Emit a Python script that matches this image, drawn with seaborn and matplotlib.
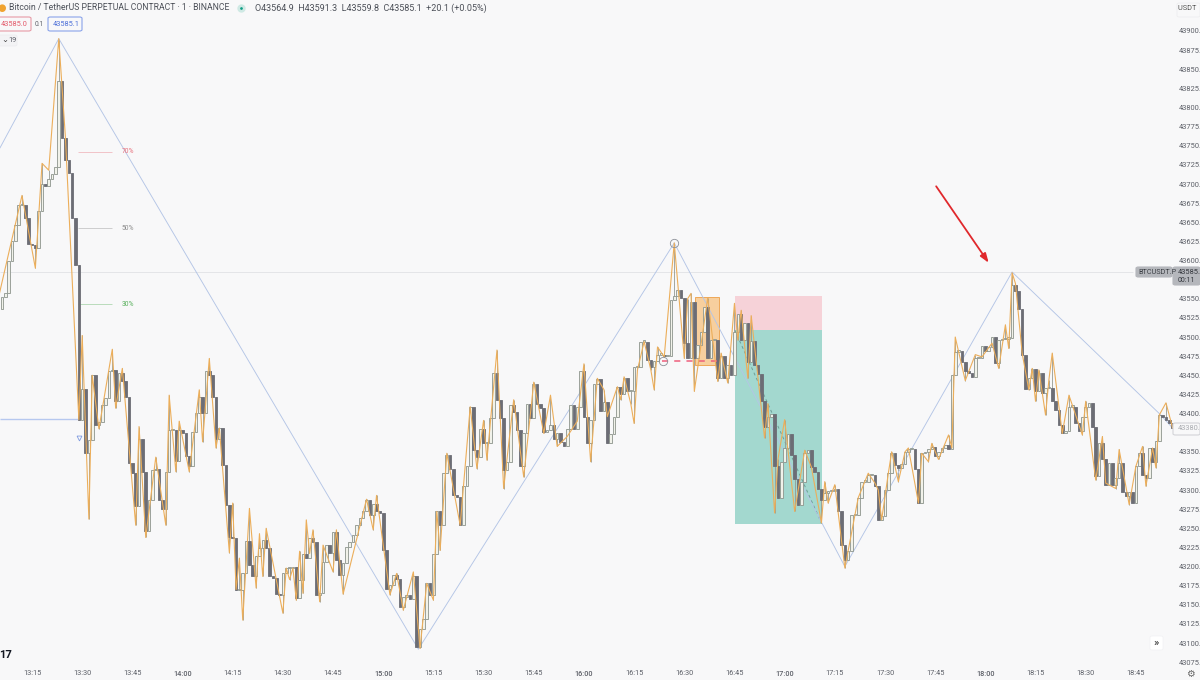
import numpy as np
import seaborn as sns
import matplotlib.pyplot as plt
from matplotlib.patches import Rectangle, FancyBboxPatch

# one minute candles, first one is 13:06
first_minute = 6
first_open = 43536
closes = [
    43552, 43557, 43600, 43626, 43646, 43672, 43672, 43655, 43622, 43620,
    43617, 43665, 43700, 43698, 43706, 43713, 43722, 43834, 43760, 43731,
    43714, 43656, 43594, 43392, 43432, 43349, 43365, 43450, 43385, 43389,
    43411, 43420, 43455, 43457, 43416, 43453, 43442, 43422, 43335, 43322,
    43279, 43367, 43324, 43246, 43287, 43326, 43328, 43287, 43275, 43323,
    43378, 43379, 43338, 43378, 43374, 43344, 43331, 43376, 43401, 43421,
    43401, 43455, 43450, 43421, 43367, 43381, 43333, 43281, 43238, 43237,
    43169, 43169, 43192, 43234, 43202, 43188, 43214, 43224, 43235, 43224,
    43187, 43185, 43164, 43163, 43191, 43198, 43198, 43199, 43159, 43183,
    43217, 43211, 43237, 43232, 43163, 43165, 43206, 43228, 43218, 43245,
    43208, 43189, 43204, 43226, 43232, 43241, 43254, 43263, 43272, 43287,
    43267, 43282, 43272, 43270, 43221, 43171, 43176, 43189, 43184, 43147,
    43160, 43163, 43158, 43187, 43095, 43119, 43132, 43178, 43163, 43217,
    43272, 43254, 43322, 43346, 43328, 43293, 43291, 43254, 43305, 43331,
    43409, 43352, 43343, 43380, 43361, 43361, 43394, 43453, 43418, 43394,
    43326, 43337, 43411, 43402, 43378, 43331, 43375, 43413, 43394, 43439,
    43413, 43407, 43376, 43379, 43385, 43367, 43374, 43363, 43357, 43380,
    43411, 43380, 43409, 43455, 43395, 43361, 43391, 43439, 43445, 43403,
    43415, 43361, 43373, 43396, 43435, 43426, 43446, 43429, 43429, 43461,
    43461, 43494, 43494, 43470, 43461, 43469, 43477, 43477, 43475, 43475,
    43548, 43553, 43562, 43551, 43492, 43472, 43546, 43472, 43490, 43507,
    43539, 43472, 43496, 43496, 43446, 43475, 43446, 43464, 43450, 43507,
    43530, 43496, 43518, 43468, 43495, 43464, 43452, 43416, 43383, 43396,
    43399, 43331, 43289, 43337, 43355, 43373, 43346, 43315, 43281, 43311,
    43348, 43352, 43330, 43324, 43302, 43287, 43296, 43299, 43299, 43302,
    43272, 43228, 43209, 43220, 43267, 43267, 43289, 43311, 43311, 43320,
    43320, 43305, 43261, 43266, 43300, 43322, 43349, 43333, 43329, 43334,
    43350, 43353, 43353, 43327, 43283, 43348, 43350, 43353, 43356, 43345,
    43350, 43355, 43359, 43353, 43451, 43481, 43482, 43468, 43455, 43453,
    43448, 43472, 43472, 43488, 43482, 43487, 43500, 43466, 43496, 43497,
    43498, 43499, 43568, 43560, 43536, 43477, 43432, 43446, 43458, 43429,
    43453, 43427, 43433, 43433, 43416, 43405, 43385, 43374, 43377, 43409,
    43409, 43387, 43377, 43396, 43409, 43414, 43383, 43319, 43361, 43340,
    43307, 43335, 43307, 43316, 43335, 43298, 43292, 43298, 43283, 43331,
    43348, 43320, 43316, 43355, 43337, 43364, 43398, 43396, 43392, 43387, 43381,
]

# orange swing line, minute and price of each turn
swing_minutes = [
    5, 12, 16, 18, 20, 23, 25, 29, 30, 32, 33, 35, 39, 40, 42, 46, 47, 49, 52, 55,
    56, 58, 59, 62, 65, 66, 68, 70, 71, 74, 75, 76, 77, 78, 80, 82, 83, 84, 85, 90,
    91, 92, 93, 94, 95, 96, 97, 98, 99, 101, 102, 105, 106, 108, 115, 117, 118, 122,
    124, 126, 129, 131, 133, 135, 136, 137, 139, 143, 146, 148, 150, 151, 154, 156,
    159, 162, 165, 168, 170, 172, 175, 178, 180, 182, 184, 186, 187, 190, 191, 192,
    194, 195, 196, 198, 200, 201, 202, 204, 207, 210, 211, 212, 213, 217, 220, 221,
    223, 225, 226, 227, 229, 230, 234, 235, 237, 238, 240, 243, 246, 248, 251, 252,
    253, 255, 258, 262, 265, 267, 268, 269, 271, 272, 274, 276, 277, 280, 281, 283,
    284, 286, 289, 290, 291, 294, 297, 299, 302, 304, 306, 307, 308, 309, 311, 313,
    314, 315, 316, 318, 319, 320, 323, 325, 329, 330, 333, 335, 336, 339, 340, 343,
    345, 347, 348, 350, 351, 352, 354, 356,
]
swing_prices = [
    43552, 43685, 43590, 43727, 43718, 43890, 43760, 43392, 43502, 43262, 43450, 43380,
    43484, 43407, 43459, 43254, 43383, 43238, 43343, 43254, 43424, 43324, 43390, 43324,
    43431, 43363, 43472, 43355, 43381, 43218, 43283, 43170, 43211, 43130, 43276, 43172,
    43243, 43187, 43250, 43139, 43198, 43183, 43198, 43156, 43220, 43165, 43261, 43217,
    43248, 43154, 43228, 43193, 43248, 43164, 43288, 43248, 43293, 43163, 43191, 43143,
    43193, 43093, 43178, 43156, 43272, 43221, 43348, 43254, 43409, 43328, 43391, 43339,
    43483, 43302, 43418, 43317, 43441, 43374, 43424, 43357, 43370, 43390, 43465, 43337,
    43446, 43431, 43396, 43435, 43418, 43448, 43413, 43387, 43457, 43494, 43457, 43431,
    43487, 43474, 43623, 43472, 43550, 43557, 43429, 43551, 43442, 43479, 43440, 43544,
    43496, 43535, 43446, 43528, 43368, 43413, 43270, 43340, 43392, 43272, 43352, 43330,
    43257, 43311, 43283, 43307, 43198, 43290, 43322, 43309, 43300, 43261, 43322, 43350,
    43311, 43350, 43355, 43283, 43348, 43337, 43361, 43340, 43372, 43355, 43500, 43443,
    43477, 43474, 43492, 43459, 43516, 43485, 43584, 43570, 43479, 43431, 43459, 43416,
    43457, 43398, 43444, 43479, 43374, 43424, 43372, 43416, 43313, 43370, 43309, 43302,
    43353, 43281, 43331, 43357, 43305, 43355, 43329, 43398, 43414, 43381,
]

# big blue zigzag
zigzag_minutes = [5.4, 23, 130.5, 207, 258, 308, 352, 356]
zigzag_prices = [43747, 43890, 43092, 43623, 43200, 43585, 43400, 43381]

price_ticks = list(range(43075, 43925, 25))
hidden_price_labels = [43375, 43575]
time_ticks = [30 + 15 * i for i in range(-1, 22)]
time_labels = ["13:15", "13:30", "13:45", "14:00", "14:15", "14:30", "14:45", "15:00",
               "15:15", "15:30", "15:45", "16:00", "16:15", "16:30", "16:45", "17:00",
               "17:15", "17:30", "17:45", "18:00", "18:15", "18:30", "18:45"]
hour_labels = ["14:00", "15:00", "16:00", "17:00", "18:00"]

fib_levels = ["70%", "50%", "30%"]
fib_prices = [43742, 43642, 43543]
fib_colors = ["#e8707c", "#8c8c8c", "#58b05c"]

last_price = 43585.1
sim_price = 43380.1
BG = "#f8f8f9"
TXT = "#5d6068"

sns.set_theme(style="white", rc={"axes.facecolor": BG, "figure.facecolor": BG})
plt.rcParams["font.family"] = ["Roboto", "DejaVu Sans"]

fig = plt.figure(figsize=(12, 6.8), dpi=100)
ax = fig.add_axes([0, 12 / 680, 1175 / 1200, 668 / 680])
ax.set_xlim(5.43, 356.7)
ax.set_ylim(43067.4, 43940.5)
sns.despine(ax=ax, left=True, bottom=True, right=True, top=True)


def px_text(x, y, s, **kw):
    kw.setdefault("fontsize", 5.3)
    kw.setdefault("color", TXT)
    kw.setdefault("va", "center")
    return fig.text(x / 1200, 1 - y / 680, s, **kw)


def px_box(x, y, w, h, face, edge, lw=0.8):
    fig.patches.append(FancyBboxPatch(
        (x / 1200, 1 - (y + h) / 680), w / 1200, h / 680,
        boxstyle="round,pad=0,rounding_size=0.002", transform=fig.transFigure,
        facecolor=face, edgecolor=edge, linewidth=lw, figure=fig, zorder=5))


# position tool boxes and last price line
ax.add_patch(Rectangle((225.1, 43509), 26, 45, color="#f6d2d8", lw=0, zorder=1))
ax.add_patch(Rectangle((225.1, 43256), 26, 253, color="#a3d8cf", lw=0, zorder=1))
ax.add_patch(Rectangle((213.2, 43463), 7.2, 89, facecolor="#f7cf9e", edgecolor="#eea858", lw=0.7, zorder=1))
ax.hlines(last_price, 5.43, 344, color="#e4e5e8", lw=0.7, zorder=1)
ax.hlines(43393, 5.43, 28.8, color="#b6c8ef", lw=1, zorder=2)
ax.hlines(43469, 203.2, 219.7, color="#ee5f7d", lw=1.1, ls=(0, (4, 4)), zorder=4)
ax.plot([225.1, 251.1], [43509, 43256], color="#6f9f98", lw=0.7, ls=(0, (3, 3)), zorder=2)
ax.plot(29, 43368, marker="v", ms=3.5, mfc="none", mec="#7f9be0", mew=0.6, zorder=4)

# fib labels
for level, price, col in zip(fib_levels, fib_prices, fib_colors):
    ax.hlines(price, 28.7, 39, color=col, lw=0.6, alpha=0.45, zorder=2)
    ax.text(41.7, price, level, fontsize=4.9, color=col, va="center", zorder=3)

# candles
minutes = np.arange(first_minute, first_minute + len(closes))
opens = [first_open] + closes[:-1]
for m, o, c in zip(minutes, opens, closes):
    up = c >= o
    ax.bar(m, max(abs(c - o), 1.5), bottom=min(o, c), width=0.78,
           facecolor="#f1f2ea" if up else "#6c6d75",
           edgecolor="#8c948c" if up else "#6c6d75", linewidth=0.6, zorder=3)

# wick reaches the swing turn of that minute
for m, p in zip(swing_minutes, swing_prices):
    if first_minute <= m < first_minute + len(closes):
        i = m - first_minute
        ax.vlines(m, min(opens[i], closes[i], p), max(opens[i], closes[i], p),
                  color="#959990", lw=0.6, zorder=2.5)

sns.lineplot(x=zigzag_minutes, y=zigzag_prices, ax=ax, color="#b4c5e6", lw=0.65,
             sort=False, estimator=None, zorder=2.8)
sns.lineplot(x=swing_minutes, y=swing_prices, ax=ax, color="#ecae5a", lw=0.8,
             sort=False, estimator=None, zorder=4)

# pivot rings
ax.plot(207, 43623, marker="o", ms=6, mfc="none", mec="#8d9199", mew=0.6, zorder=5)
ax.plot(203.5, 43469, marker="o", ms=6, mfc="none", mec="#8d9199", mew=0.6, zorder=5)
ax.annotate("", xy=(301, 43597), xytext=(285.3, 43697),
            arrowprops=dict(arrowstyle="-|>,head_width=0.16,head_length=0.45", color="#e0282c",
                            lw=1.3, shrinkA=0, shrinkB=0),
            zorder=6)

# axes
ax.yaxis.tick_right()
ax.set_yticks(price_ticks)
ax.set_yticklabels(["" if p in hidden_price_labels else f"{p:.1f}" for p in price_ticks],
                   fontsize=5.4, color=TXT)
ax.set_xticks(time_ticks)
ax.set_xticklabels(time_labels, fontsize=5.3, color=TXT)
for lab in ax.get_xticklabels():
    if lab.get_text() in hour_labels:
        lab.set_fontweight("medium")
ax.tick_params(axis="both", length=0)
ax.tick_params(axis="x", pad=1.5)
ax.tick_params(axis="y", pad=2.5)
ax.set_xlabel("")
ax.set_ylabel("")

# header
px_text(2, 8, "●", fontsize=7, color="#f0a330", ha="center")
px_text(9, 8, "Bitcoin / TetherUS PERPETUAL CONTRACT · 1 · BINANCE", fontsize=6.2, color="#4c5058")
ax.plot(241 / 1200, 1 - 8 / 680, marker="o", ms=4, mfc="#0f9d85", mec="#cfe9e4", mew=2,
        transform=fig.transFigure, clip_on=False, zorder=6)
px_text(255, 8, "O43564.9  H43591.3  L43559.8  C43585.1  +20.1 (+0.05%)", fontsize=6.5, color="#4c5058")
px_box(-3, 17, 34, 14, "#f8f8f9", "#e79aa6")
px_text(1, 24, "43585.0", color="#e35a6a", zorder=6)
px_text(35, 24, "0.1", fontsize=4.8, zorder=6)
px_box(48, 17, 34, 14, "#f8f8f9", "#8aa3ea")
px_text(53, 24, "43585.1", color="#4c6fd8", zorder=6)
px_box(-3, 35, 20, 11, "#f3f3f5", "#ececef", lw=0.5)
px_text(1, 40, "⌄", fontsize=6, zorder=6, color="#444444")
px_text(8, 40, "19", zorder=6)

# right side labels
px_box(1177, 3, 23, 14, BG, "#ececee", lw=0.5)
px_text(1178, 9, "USDT  ▾", color="#555555", zorder=6)
px_box(1136, 267, 36, 10, "#b5b7bc", "#b5b7bc")
px_text(1138, 272, "BTCUSDT.P", fontsize=5.2, color="#3c3f45", zorder=6)
px_box(1173, 267, 27, 18, "#b5b7bc", "#b5b7bc")
px_text(1178, 272, "43585.1", fontsize=5.4, color="#34373d", zorder=6)
px_text(1178, 281, "00:11", fontsize=5.0, color="#34373d", zorder=6)
px_box(1173, 423, 27, 12, "#f8f8f9", "#d3d4d8")
px_text(1178, 429, f"{sim_price:.1f}", fontsize=5.4, color="#a9abb0", zorder=6)
px_box(1150, 636, 13, 14, "#ffffff", "#f0f0f2", lw=0.4)
px_text(1156.5, 643, "»", fontsize=8, color="#222222", ha="center", zorder=6)
px_text(1190, 674, "⚙", fontsize=7, color="#666666", ha="center", family=["DejaVu Sans"], zorder=6)
px_text(-1, 655, "17", fontsize=8, fontweight="bold", color="#131722", zorder=6)

fig.savefig("out.png", dpi=100)
